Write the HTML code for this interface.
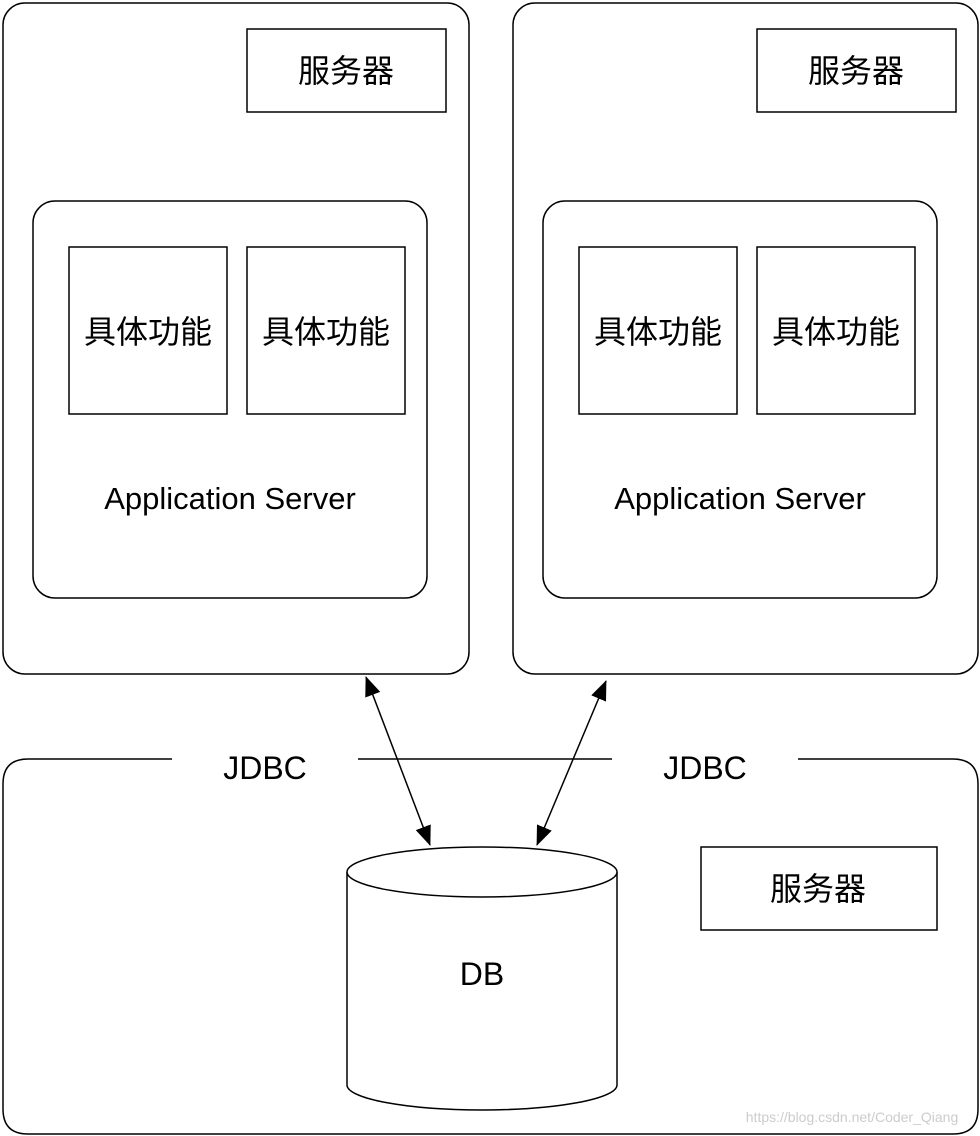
<!DOCTYPE html>
<html><head><meta charset="utf-8"><style>
html,body{margin:0;padding:0;background:#fff;width:980px;height:1136px;overflow:hidden}
svg{display:block}
text{font-family:"Liberation Sans","Noto Sans CJK SC",sans-serif;fill:#000}
</style></head><body>
<svg width="980" height="1136" viewBox="0 0 980 1136">
<defs><marker id="a" markerWidth="20" markerHeight="16" refX="19" refY="8" orient="auto-start-reverse" markerUnits="userSpaceOnUse" viewBox="0 0 20 16"><path d="M0,0 L20,8 L0,16 z" fill="#000"/></marker></defs>
<g fill="none" stroke="#000" stroke-width="1.5">
<rect x="3" y="3" width="466" height="671" rx="22"/>
<rect x="513" y="3" width="465" height="671" rx="22"/>
<rect x="247" y="29" width="199" height="83"/>
<rect x="757" y="29" width="199" height="83"/>
<rect x="33" y="201" width="394" height="397" rx="22"/>
<rect x="543" y="201" width="394" height="397" rx="22"/>
<rect x="69" y="247" width="158" height="167"/>
<rect x="247" y="247" width="158" height="167"/>
<rect x="579" y="247" width="158" height="167"/>
<rect x="757" y="247" width="158" height="167"/>
<path d="M172,759 H28 Q3,759 3,784 V1109 Q3,1134 28,1134 H953 Q978,1134 978,1109 V784 Q978,759 953,759 H798"/>
<line x1="358" y1="759" x2="612" y2="759"/>
<rect x="701" y="847" width="236" height="83"/>
<path d="M347,872 V1085 A135,25 0 0 0 617,1085 V872"/>
<ellipse cx="482" cy="872" rx="135" ry="25" fill="#fff"/>
<line x1="366" y1="677" x2="430" y2="845" marker-end="url(#a)" marker-start="url(#a)"/>
<line x1="606" y1="681" x2="537" y2="845" marker-end="url(#a)" marker-start="url(#a)"/>
</g>
<g font-size="32" text-anchor="middle">
<text x="346" y="82">服务器</text>
<text x="856" y="82">服务器</text>
<text x="818" y="900">服务器</text>
<text x="148" y="343">具体功能</text>
<text x="326" y="343">具体功能</text>
<text x="658" y="343">具体功能</text>
<text x="836" y="343">具体功能</text>
<text x="230" y="509" font-size="31">Application Server</text>
<text x="740" y="509" font-size="31">Application Server</text>
<text x="265" y="779">JDBC</text>
<text x="705" y="779">JDBC</text>
<text x="482" y="985">DB</text>
</g>
<text x="852" y="1122" font-size="14" text-anchor="middle" style="fill:#ccc">https://blog.csdn.net/Coder_Qiang</text>
</svg>
</body></html>
